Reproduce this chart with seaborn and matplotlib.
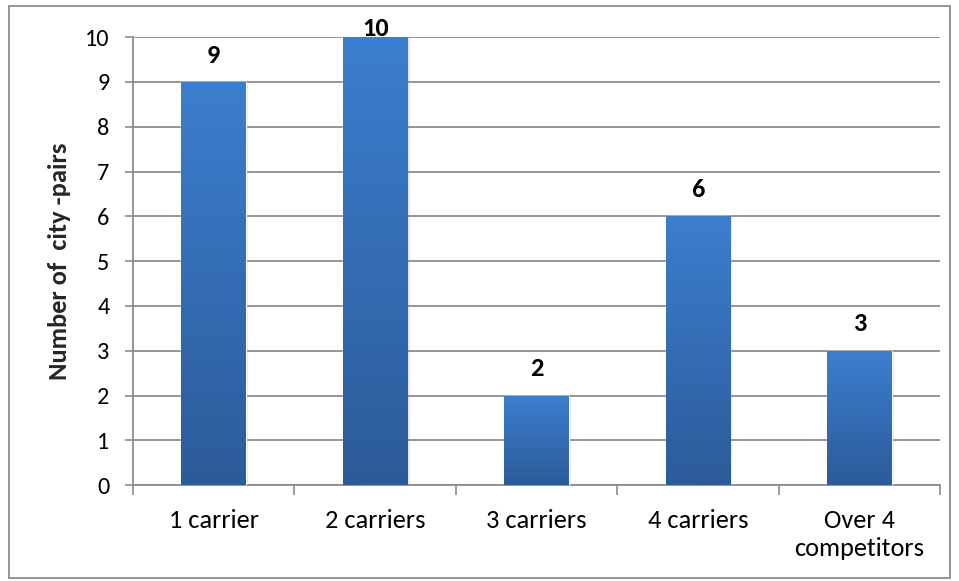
import numpy as np
import pandas as pd
import matplotlib
matplotlib.use("Agg")
import matplotlib.pyplot as plt
import seaborn as sns
from matplotlib.colors import LinearSegmentedColormap
from matplotlib.patches import Rectangle
from matplotlib import font_manager

categories = ["1 carrier", "2 carriers", "3 carriers", "4 carriers", "Over 4\ncompetitors"]
values = [9, 10, 2, 6, 3]
y_ticks = [0, 1, 2, 3, 4, 5, 6, 7, 8, 9, 10]
y_label = "Number of  city -pairs"

sns.set_theme(style="white")
avail = {f.name for f in font_manager.fontManager.ttflist}
fams = [f for f in ["Carlito", "Lato"] if f in avail] + ["DejaVu Sans"]
plt.rcParams["font.family"] = fams

df = pd.DataFrame({"cat": categories, "val": values})

fig = plt.figure(figsize=(9.59, 5.81), dpi=100)
ax = fig.add_axes([0.1387, 0.165, 0.8415, 0.771])

sns.barplot(data=df, x="cat", y="val", color="#3A7BCA", width=0.4, ax=ax,
            saturation=1, zorder=3)

cmap = LinearSegmentedColormap.from_list("g", ["#2C5B98", "#3C7ECF"])
grad = np.linspace(0, 1, 256).reshape(-1, 1)
for p in ax.patches:
    x0, y0 = p.get_x(), p.get_y()
    w, h = p.get_width(), p.get_height()
    sh = Rectangle((x0 + 0.014, y0), w, h, facecolor="#000000", alpha=0.10,
                   edgecolor="none", zorder=2.5)
    ax.add_patch(sh)
    im = ax.imshow(grad, extent=[x0, x0 + w, y0, y0 + h], origin="lower",
                   cmap=cmap, aspect="auto", zorder=3.5)
    im.set_clip_path(p)

ax.set_xlim(-0.5, len(categories) - 0.5)
ax.set_ylim(0, 10)
ax.set_yticks(y_ticks)
ax.yaxis.grid(True, color="#8C8C8C", linewidth=1.3, zorder=0)
ax.set_axisbelow(True)

for i, v in enumerate(values):
    ty = min(v + 0.6, 10.2)
    ax.text(i, ty, str(v), ha="center", va="center", fontsize=19,
            fontweight="bold", color="black", zorder=5, clip_on=False)

ax.set_xlabel("")
ax.set_ylabel(y_label, fontsize=19, fontweight="bold", labelpad=10)

for s in ["top", "right"]:
    ax.spines[s].set_visible(False)
for s in ["left", "bottom"]:
    ax.spines[s].set_color("#8C8C8C")
    ax.spines[s].set_linewidth(1.3)

ax.tick_params(axis="y", which="major", direction="out", length=6, width=1.2,
               color="#8C8C8C", labelsize=17.5, pad=11, left=True)
ax.tick_params(axis="x", which="major", length=0, labelsize=19, pad=17)
ax.set_xticks(np.arange(-0.5, len(categories), 1.0), minor=True)
ax.tick_params(axis="x", which="minor", direction="out", length=7, width=1.2,
               color="#8C8C8C", bottom=True)
for lbl in ax.get_xticklabels():
    lbl.set_linespacing(1.3)
    lbl.set_color("black")
for lbl in ax.get_yticklabels():
    lbl.set_color("black")

fig.patches.append(Rectangle((0.009, 0.005), 0.982, 0.984, transform=fig.transFigure,
                             fill=False, edgecolor="#8C8C8C", linewidth=1.3))

fig.savefig("out.png", dpi=100)
